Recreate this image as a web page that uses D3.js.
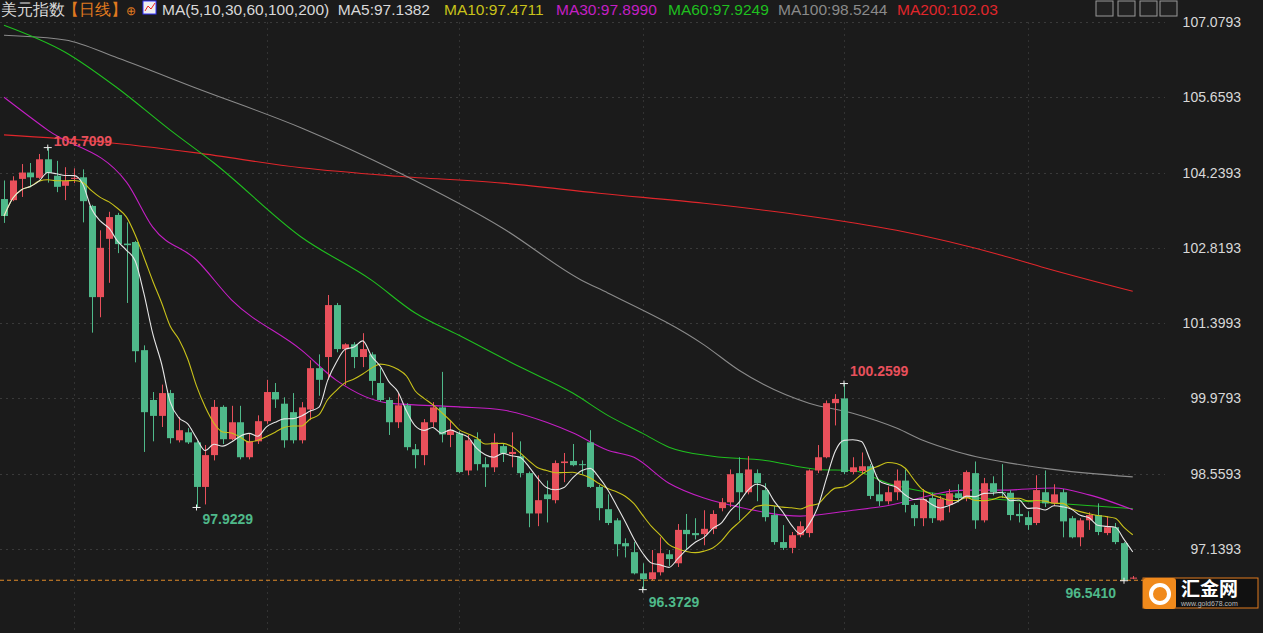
<!DOCTYPE html>
<html><head><meta charset="utf-8">
<script src="https://cdn.jsdelivr.net/npm/d3@7"></script>
<style>body{margin:0;background:#1b1b1b;overflow:hidden}svg{display:block}</style>
</head><body><svg id="c" width="1263" height="633"></svg>
<script>
const opens=[103.74,103.72,104.12,104.24,104.14,104.49,104.18,103.99,104.12,104.15,103.61,101.89,102.99,103.44,102.90,102.93,100.89,99.95,99.65,100.08,99.19,99.34,99.15,98.31,98.91,99.82,99.21,99.53,98.87,99.17,99.55,100.10,99.88,99.72,99.19,99.77,100.55,100.76,101.74,100.91,101.00,100.76,100.81,100.27,99.95,99.53,99.85,99.02,98.91,99.53,99.81,99.29,99.32,98.62,99.21,98.74,98.68,99.08,98.93,98.89,98.57,97.81,98.17,98.06,98.76,98.80,98.74,99.15,98.31,97.89,97.68,97.25,97.08,96.68,96.57,96.70,97.04,96.87,97.50,97.44,97.42,97.52,97.91,98.02,98.57,98.21,98.57,98.25,97.78,97.27,97.16,97.40,97.44,98.62,98.87,99.89,99.98,98.59,98.61,98.70,98.17,98.04,98.21,98.43,97.97,97.72,98.10,97.68,97.97,98.19,98.10,98.57,97.68,98.38,98.21,98.20,97.80,97.74,97.63,98.21,98.00,98.21,97.72,97.36,97.68,97.78,97.44,97.55,97.25,96.58];
const closes=[103.42,104.09,104.24,104.15,104.49,104.23,103.97,104.08,104.14,103.70,101.89,102.82,103.40,102.89,102.87,100.87,99.72,99.65,100.08,99.23,99.38,99.15,98.31,98.91,99.82,99.21,99.53,98.87,99.17,99.55,100.10,99.96,99.19,99.19,99.81,100.55,100.33,101.74,100.91,101.00,100.76,100.91,100.31,99.95,99.53,99.85,99.06,98.91,99.53,99.81,99.30,99.38,98.59,99.19,98.74,98.68,99.15,98.95,98.97,98.57,97.81,98.06,98.08,98.76,98.79,98.72,98.72,98.31,97.91,97.63,97.23,97.19,96.68,96.57,96.70,97.06,96.95,97.50,97.42,97.40,97.52,97.80,98.02,98.55,98.21,98.64,98.38,97.74,97.27,97.16,97.40,97.57,98.62,98.87,99.89,99.97,98.59,98.68,98.70,98.14,98.04,98.21,98.43,97.97,97.72,98.08,97.72,98.08,98.19,98.10,98.59,97.68,98.38,98.21,98.19,97.78,97.76,97.59,98.25,98.00,98.17,97.66,97.36,97.68,97.78,97.46,97.55,97.27,96.55,96.60];
const highs=[104.09,104.17,104.40,104.42,104.59,104.71,104.46,104.34,104.32,104.30,103.63,103.15,103.50,103.48,103.30,102.95,100.98,100.10,100.24,100.14,99.63,99.42,99.18,99.10,99.95,99.85,99.84,99.84,99.32,99.66,100.33,100.27,100.00,100.08,99.91,100.70,100.81,101.93,101.78,101.02,101.04,101.21,100.85,100.55,100.00,100.08,99.89,99.12,99.59,99.91,100.48,99.57,99.36,99.29,99.34,98.87,99.32,99.13,99.34,99.17,98.60,98.53,98.43,98.81,98.95,99.12,98.81,99.38,98.35,98.17,97.72,97.34,97.27,96.87,97.12,97.36,97.12,97.61,97.80,97.72,97.87,97.87,98.10,98.64,98.87,98.89,98.64,98.38,97.95,97.59,97.46,97.66,98.64,99.10,99.94,100.06,100.26,98.87,98.96,98.74,98.43,98.32,98.64,98.64,98.00,98.27,98.20,98.14,98.27,98.36,98.62,98.79,98.48,98.51,98.74,98.25,98.00,97.85,98.53,98.62,98.36,98.27,97.76,97.72,97.83,98.00,97.76,97.63,97.27,96.63];
const lows=[103.29,103.70,103.78,103.96,104.12,104.05,103.87,103.72,104.04,103.30,101.22,101.51,102.16,102.72,101.78,100.66,98.97,99.17,99.44,99.13,99.15,99.12,97.92,97.98,98.81,99.12,99.19,98.83,98.83,99.12,99.50,99.80,99.05,99.13,99.13,99.57,100.03,100.33,100.85,100.23,100.55,100.57,100.04,99.92,99.29,99.42,99.00,98.66,98.72,99.44,99.15,99.06,98.57,98.53,98.62,98.31,98.59,98.78,98.68,98.49,97.55,97.57,97.64,98.00,98.40,98.70,98.55,98.29,97.68,97.59,97.00,96.98,96.66,96.37,96.55,96.64,96.82,96.80,97.12,97.32,97.21,97.42,97.85,97.93,97.68,98.17,98.04,97.66,97.22,97.12,97.06,97.36,97.36,98.57,98.85,99.47,98.55,98.55,98.55,98.08,97.95,97.98,98.06,97.83,97.57,97.57,97.63,97.66,97.83,98.02,98.04,97.52,97.64,98.15,98.10,97.68,97.64,97.50,97.59,97.93,97.95,97.36,97.34,97.19,97.50,97.40,97.40,97.23,96.54,96.57];
const ma30Idx=[0,5,14,17,22,26,34,38,44,52,57,62,65,69,72,76,80,84,91,97,100,110,114,120,124,129];
const ma30Val=[105.66,105.04,104.06,103.21,102.59,101.84,100.89,100.32,99.89,99.82,99.76,99.53,99.33,99.00,98.87,98.38,98.10,97.93,97.76,97.87,97.93,98.25,98.25,98.29,98.16,97.88];
const ma60Idx=[0,7,13,19,24,34,42,47,52,59,65,69,73,76,81,87,93,97,101,108,115,123,129];
const ma60Val=[107.02,106.51,105.83,105.04,104.42,103.02,102.21,101.59,101.17,100.57,100.08,99.66,99.32,99.06,98.89,98.81,98.64,98.62,98.38,98.15,98.06,97.97,97.90];
const ma100Idx=[0,7,13,22,34,45,57,66,69,80,84,92,97,102,105,109,119,129];
const ma100Val=[106.83,106.74,106.40,105.83,105.08,104.25,103.19,102.21,101.97,100.99,100.51,99.89,99.70,99.42,99.19,98.97,98.66,98.50];
const ma200Idx=[0,11,22,34,45,57,68,80,91,102,114,119,129];
const ma200Val=[104.95,104.82,104.61,104.33,104.17,104.04,103.85,103.66,103.44,103.15,102.68,102.44,102.00];
const yTicks=[107.0793,105.6593,104.2393,102.8193,101.3993,99.9793,98.5593,97.1393];
const vGridIdx=[8,30,52,73,96,117];
const peaks=[{i:5,v:104.7099,t:"104.7099",c:"#e8505b",side:"r",above:true},{i:22,v:97.9229,t:"97.9229",c:"#4fb98a",side:"r"},{i:73,v:96.3729,t:"96.3729",c:"#4fb98a",side:"r"},{i:96,v:100.2599,t:"100.2599",c:"#e8505b",side:"r",above:true},{i:128,v:96.5410,t:"96.5410",c:"#4fb98a",side:"l"}];
const lastPrice=96.55;

const svg=d3.select("#c");
const n=opens.length;
const x=d3.scaleLinear().domain([0,n-1]).range([4,4+8.75*(n-1)]);
const y=d3.scaleLinear().domain([97.1393,107.0793]).range([549,22]);
const font="Arial, 'Liberation Sans', sans-serif";
svg.selectAll(".hg").data(yTicks).join("line").attr("x1",0).attr("x2",1165).attr("y1",d=>Math.round(y(d))+0.5).attr("y2",d=>Math.round(y(d))+0.5).attr("stroke","#3a3a3a").attr("stroke-dasharray","2,4");
svg.selectAll(".vg").data(vGridIdx).join("line").attr("x1",d=>Math.round(x(d))+0.5).attr("x2",d=>Math.round(x(d))+0.5).attr("y1",22).attr("y2",633).attr("stroke","#333").attr("stroke-dasharray","2,4");
svg.selectAll(".yl").data(yTicks).join("text").attr("x",1241).attr("y",d=>y(d)+5).attr("text-anchor","end").attr("fill","#d8d8d8").attr("font-family",font).attr("font-size",14).text(d=>d.toFixed(4));
const line=d3.line().x(d=>x(d[0])).y(d=>y(d[1])).curve(d3.curveMonotoneX);
function drawMA(idx,val,col){svg.append("path").attr("d",line(idx.map((d,k)=>[d,val[k]]))).attr("fill","none").attr("stroke",col).attr("stroke-width",1.1);}
drawMA(ma200Idx,ma200Val,"#e0262b");
drawMA(ma100Idx,ma100Val,"#8a8a8a");
drawMA(ma60Idx,ma60Val,"#1fbf1f");
drawMA(ma30Idx,ma30Val,"#c41fc4");
const up="#e8505b",dn="#4fb98a";
const idx=d3.range(n);
const g=svg.append("g");
g.selectAll(".w").data(idx).join("line").attr("x1",i=>Math.round(x(i))+0.5).attr("x2",i=>Math.round(x(i))+0.5).attr("y1",i=>y(highs[i])).attr("y2",i=>y(lows[i])).attr("stroke",i=>closes[i]>=opens[i]?up:dn);
g.selectAll(".b").data(idx).join("rect").attr("x",i=>Math.round(x(i))-3).attr("width",7).attr("y",i=>y(Math.max(opens[i],closes[i]))).attr("height",i=>Math.max(1,Math.abs(y(opens[i])-y(closes[i])))).attr("fill",i=>closes[i]>=opens[i]?up:dn);
function ma(p){return idx.map(i=>{const s=closes.slice(Math.max(0,i-p+1),i+1);return [i,d3.mean(s)];});}
svg.append("path").attr("d",line(ma(10))).attr("fill","none").attr("stroke","#c9c21a").attr("stroke-width",1.1);
svg.append("path").attr("d",line(ma(5))).attr("fill","none").attr("stroke","#e6e6e6").attr("stroke-width",1.1);
svg.append("line").attr("x1",0).attr("x2",1165).attr("y1",y(lastPrice)).attr("y2",y(lastPrice)).attr("stroke","#e08a2a").attr("stroke-dasharray","4,3").attr("stroke-width",1.2);
peaks.forEach(p=>{const px=x(p.i),py=y(p.v);
 svg.append("path").attr("d",`M${px-4},${py}H${px+4}M${px},${py-3}V${py+3}`).attr("stroke","#eee");
 const ty=p.above?py-8:py+17;
 svg.append("text").attr("x",p.side==="r"?px+6:px-8).attr("y",p.i===5?py-2:ty).attr("text-anchor",p.side==="r"?"start":"end").attr("fill",p.c).attr("font-family",font).attr("font-size",14).attr("font-weight","bold").text(p.t);});
const lf=15.5;
svg.append("text").attr("x",1).attr("y",15).attr("font-family",font).attr("font-size",lf).attr("fill","#d8d8d8").text("美元指数");
svg.append("text").attr("x",63).attr("y",15).attr("font-family",font).attr("font-size",lf).attr("fill","#e07a1f").text("【日线】");
svg.append("text").attr("x",126).attr("y",15).attr("font-family",font).attr("font-size",12).attr("fill","#e07a1f").text("⊕");
svg.append("rect").attr("x",143).attr("y",1).attr("width",13).attr("height",13).attr("fill","#eee").attr("stroke","#33f");
svg.append("path").attr("d","M145,11L148,6L151,9L155,3").attr("stroke","#e22").attr("fill","none");
const legend=[[162,"MA(5,10,30,60,100,200)  MA5:97.1382","#d8d8d8"],[444,"MA10:97.4711","#c9c21a"],[556,"MA30:97.8990","#c41fc4"],[668,"MA60:97.9249","#1fbf1f"],[778,"MA100:98.5244","#8a8a8a"],[897,"MA200:102.03","#e0262b"]];
legend.forEach(d=>svg.append("text").attr("x",d[0]).attr("y",15).attr("font-family",font).attr("font-size",lf).attr("fill",d[2]).style("white-space","pre").text(d[1]));
[1096,1118,1140,1160].forEach(xx=>svg.append("rect").attr("x",xx).attr("y",1).attr("width",17).attr("height",15).attr("fill","#222").attr("stroke","#999"));
svg.append("rect").attr("x",1143).attr("y",578).attr("width",115).attr("height",30).attr("fill","#111").attr("stroke","#e07a1f");
svg.append("rect").attr("x",1143).attr("y",578).attr("width",33).attr("height",31).attr("rx",3).attr("fill","#f08a1c");
svg.append("circle").attr("cx",1160).attr("cy",594).attr("r",9).attr("fill","none").attr("stroke","#fff").attr("stroke-width",4);
svg.append("text").attr("x",1181).attr("y",596).attr("fill","#fff").attr("font-family","'Noto Sans CJK SC'").attr("font-size",19).attr("font-weight","bold").text("汇金网");
svg.append("text").attr("x",1181).attr("y",606).attr("fill","#bbb").attr("font-family",font).attr("font-size",7).text("www.gold678.com");
</script></body></html>
